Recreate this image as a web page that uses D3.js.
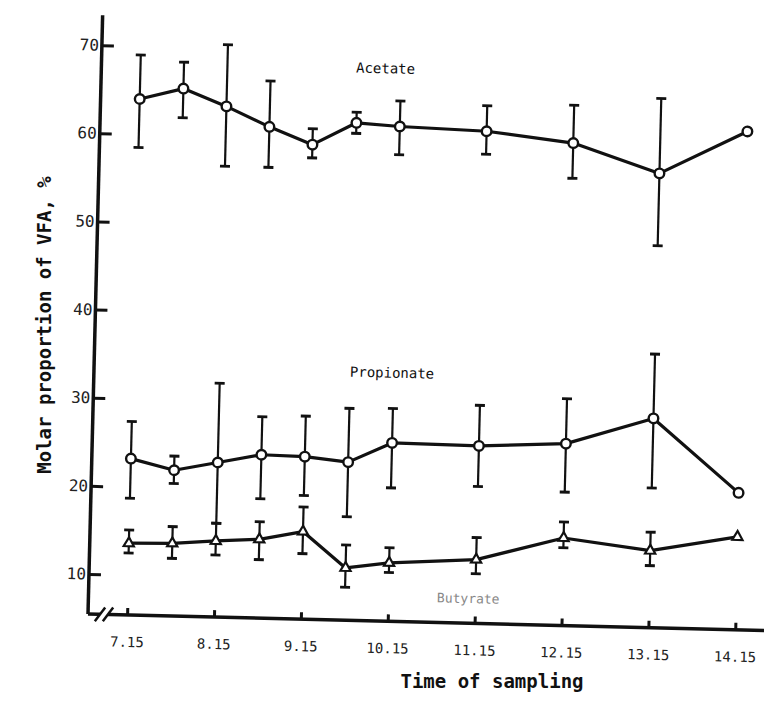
<!DOCTYPE html>
<html lang="en">
<head>
  <meta charset="UTF-8">
  <title>Molar proportion of VFA</title>
  <script src="https://d3js.org/d3.v7.min.js"></script>
  <style>
    body { margin: 0; background: #fff; }
    svg { font-family: "DejaVu Sans Mono", "Liberation Mono", monospace; }
    .tick text { fill: #222; }
  </style>
</head>
<body>
  <div id="chart"></div>
  <script>
    // Sampling times (h.mm) and series values
    const times = ["7.15", "7.45", "8.15", "8.45", "9.15", "9.45", "10.15", "11.15", "12.15", "13.15", "14.15"];
    const tickLabels = ["7.15", "8.15", "9.15", "10.15", "11.15", "12.15", "13.15", "14.15"];
    const yTicks = [10, 20, 30, 40, 50, 60, 70];

    const acetate     = [64.0, 65.3, 63.4, 61.2, 59.3, 61.9, 61.6, 61.3, 60.2, 57.0, 62.0];
    const acetateHi   = [69.0, 68.3, 70.4, 66.4, 61.1, 63.1, 64.5, 64.2, 64.5, 65.5, null];
    const acetateLo   = [58.5, 62.0, 56.6, 56.6, 57.8, 60.7, 58.4, 58.7, 56.2, 48.8, null];

    const propionate   = [23.2, 22.0, 23.0, 24.0, 23.9, 23.4, 25.7, 25.6, 26.1, 29.2, 21.0];
    const propionateHi = [27.4, 23.6, 32.0, 28.3, 28.5, 29.5, 29.6, 30.2, 31.2, 36.5, null];
    const propionateLo = [18.7, 20.5, 16.1, 19.0, 19.5, 17.2, 20.6, 21.0, 20.6, 21.3, null];

    const butyrate   = [13.6, 13.7, 14.1, 14.4, 15.4, 11.4, 12.1, 12.7, 15.4, 14.2, 16.0];
    const butyrateHi = [15.1, 15.6, 16.1, 16.4, 18.2, 14.0, 13.8, 15.2, 17.2, 16.3, null];
    const butyrateLo = [12.5, 12.0, 12.5, 12.1, 12.9,  9.2, 11.0, 11.1, 14.3, 12.5, null];

    const width = 764, height = 711;

    // "7.45" means 7:45 -> decimal hours
    const toHours = s => { const [h, m] = s.split("."); return +h + (+m) / 60; };

    // local frame: origin at the axis corner, y grows upward as negative
    const x = d3.scaleLinear().domain([6.80, 14.625]).range([0, 680]);
    const y = d3.scaleLinear().domain([5.46, 73.4]).range([0, -599]);

    const svg = d3.select("#chart").append("svg")
      .attr("width", width)
      .attr("height", height);

    // the printed figure sits slightly askew on the page
    const plot = svg.append("g").attr("transform", "translate(88,614) rotate(1.4)");

    const mono = '"DejaVu Sans Mono", "Liberation Mono", monospace';

    // Axes
    const yAxis = d3.axisLeft(y).tickValues(yTicks)
      .tickSizeInner(-12).tickSizeOuter(0).tickPadding(3);
    const gy = plot.append("g").call(yAxis).attr("font-family", mono);
    gy.select(".domain").remove();
    gy.selectAll(".tick line").attr("stroke", "#111").attr("stroke-width", 3);
    gy.selectAll(".tick text").style("font-size", "16px");

    const xAxis = d3.axisBottom(x).tickValues(tickLabels.map(toHours))
      .tickFormat((d, i) => tickLabels[i])
      .tickSizeInner(-7).tickSizeOuter(0).tickPadding(22);
    const gx = plot.append("g").call(xAxis).attr("font-family", mono);
    gx.select(".domain").remove();
    gx.selectAll(".tick line").attr("stroke", "#111").attr("stroke-width", 3);
    gx.selectAll(".tick text").style("font-size", "14px");

    // axis lines
    plot.append("line")
      .attr("x1", 0).attr("x2", 0)
      .attr("y1", y.range()[1]).attr("y2", 0)
      .attr("stroke", "#111").attr("stroke-width", 3.5);
    plot.append("line")
      .attr("x1", 0).attr("x2", x.range()[1])
      .attr("y1", 0).attr("y2", 0)
      .attr("stroke", "#111").attr("stroke-width", 3.5);

    // axis break on the time axis
    const bx = 16;
    plot.append("rect").attr("x", bx - 4).attr("y", -3).attr("width", 8).attr("height", 6).attr("fill", "#fff");
    [-4, 4].forEach(o => {
      plot.append("line")
        .attr("x1", bx + o - 5).attr("y1", 7)
        .attr("x2", bx + o + 5).attr("y2", -7)
        .attr("stroke", "#111").attr("stroke-width", 2.5);
    });

    // Series
    const line = d3.line().x(d => x(d.t)).y(d => y(d.v));

    function drawSeries(vals, hi, lo, marker) {
      const pts = vals.map((v, i) => ({ t: toHours(times[i]), v, hi: hi[i], lo: lo[i] }));
      const g = plot.append("g");

      const bars = pts.filter(d => d.hi != null);
      g.selectAll(".eb").data(bars).enter().append("line")
        .attr("x1", d => x(d.t)).attr("x2", d => x(d.t))
        .attr("y1", d => y(d.hi)).attr("y2", d => y(d.lo))
        .attr("stroke", "#111").attr("stroke-width", 2.2);
      ["hi", "lo"].forEach(k => {
        g.selectAll(".cap-" + k).data(bars).enter().append("line")
          .attr("x1", d => x(d.t) - 5).attr("x2", d => x(d.t) + 5)
          .attr("y1", d => y(d[k])).attr("y2", d => y(d[k]))
          .attr("stroke", "#111").attr("stroke-width", 2.8);
      });

      g.append("path").datum(pts)
        .attr("d", line)
        .attr("fill", "none")
        .attr("stroke", "#111")
        .attr("stroke-width", 3.2)
        .attr("stroke-linejoin", "round");

      if (marker === "circle") {
        g.selectAll(".pt").data(pts).enter().append("circle")
          .attr("cx", d => x(d.t)).attr("cy", d => y(d.v))
          .attr("r", 4.8)
          .attr("fill", "#fff").attr("stroke", "#111").attr("stroke-width", 2.4);
      } else {
        g.selectAll(".pt").data(pts).enter().append("path")
          .attr("d", d3.symbol(d3.symbolTriangle, 45))
          .attr("transform", d => `translate(${x(d.t)},${y(d.v)})`)
          .attr("fill", "#fff").attr("stroke", "#111").attr("stroke-width", 2.2);
      }
    }

    drawSeries(acetate, acetateHi, acetateLo, "circle");
    drawSeries(propionate, propionateHi, propionateLo, "circle");
    drawSeries(butyrate, butyrateHi, butyrateLo, "triangle");

    // Series labels
    plot.append("text").attr("x", x(10.07)).attr("y", y(67.6))
      .attr("text-anchor", "middle").style("font-size", "14px").attr("fill", "#111")
      .text("Acetate");
    plot.append("text").attr("x", x(10.23)).attr("y", y(33.1))
      .attr("text-anchor", "middle").style("font-size", "14px").attr("fill", "#111")
      .text("Propionate");
    plot.append("text").attr("x", x(11.17)).attr("y", y(7.76))
      .attr("text-anchor", "middle").style("font-size", "13px").attr("fill", "#888")
      .text("Butyrate");

    // Axis titles
    svg.append("text")
      .attr("transform", "translate(51,325) rotate(-90)")
      .attr("text-anchor", "middle")
      .style("font-size", "19px").style("font-weight", "bold").attr("fill", "#111")
      .text("Molar proportion of VFA, %");
    svg.append("text")
      .attr("x", 492).attr("y", 688)
      .attr("text-anchor", "middle")
      .style("font-size", "19px").style("font-weight", "bold").attr("fill", "#111")
      .text("Time of sampling");
  </script>
</body>
</html>
